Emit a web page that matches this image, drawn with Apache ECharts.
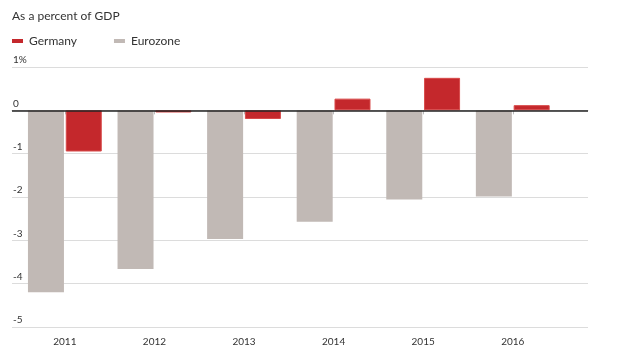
<!DOCTYPE html>
<html>
<head>
<meta charset="utf-8">
<script src="https://cdn.jsdelivr.net/npm/echarts@6/dist/echarts.min.js"></script>
<style>
html,body{margin:0;padding:0;background:#fff;}
#chart{width:617px;height:355px;}
</style>
</head>
<body>
<div id="chart"></div>
<script>
var years = [2011, 2012, 2013, 2014, 2015, 2016];
var germany = [-0.95, -0.05, -0.2, 0.27, 0.75, 0.12];
var eurozone = [-4.2, -3.66, -2.97, -2.57, -2.06, -1.99];
var yTicks = {1: '1%', 0: '0', '-1': '-1', '-2': '-2', '-3': '-3', '-4': '-4', '-5': '-5'};

function pairs(vals) {
  return years.map(function (y, i) { return [y, vals[i]]; });
}

var chart = echarts.init(document.getElementById('chart'));
chart.setOption({
  animation: false,
  textStyle: { fontFamily: 'Lato' },
  title: {
    text: 'As a percent of GDP',
    left: 7, top: 5,
    textStyle: { fontFamily: 'Lato', fontSize: 12, fontWeight: 'normal', color: '#333' }
  },
  legend: {
    left: 7, top: 30,
    itemWidth: 11, itemHeight: 4, itemGap: 37,
    icon: 'rect',
    itemStyle: { borderWidth: 0 },
    textStyle: { fontFamily: 'Lato', fontSize: 12, color: '#333', padding: [0, 0, 0, 1] },
    data: ['Germany', 'Eurozone']
  },
  grid: { left: 12, right: 29, top: 67, bottom: 28 },
  xAxis: {
    type: 'value',
    min: 2010.41, max: 2016.84,
    splitLine: { show: false },
    axisLine: { show: true, lineStyle: { color: '#d6d6d6', width: 1 } },
    axisTick: { show: true, customValues: years, length: 4, lineStyle: { color: '#bbb' } },
    axisLabel: {
      customValues: years, margin: 10,
      fontFamily: 'Lato', fontSize: 10, color: '#333',
      formatter: function (v) { return String(Math.round(v)); }
    }
  },
  yAxis: {
    type: 'value', min: -5, max: 1, interval: 1,
    axisLine: { show: false }, axisTick: { show: false },
    splitLine: { lineStyle: { color: '#dcdcdc', width: 1 } },
    axisLabel: {
      inside: true, margin: 1, verticalAlign: 'bottom',
      fontFamily: 'Lato', fontSize: 10, color: '#333',
      padding: [0, 0, 2, 0],
      formatter: function (v) { return yTicks[String(v)]; }
    }
  },
  series: [
    {
      name: 'Eurozone', type: 'bar', barWidth: 36, barGap: '5%',
      itemStyle: { color: '#c1b9b5' },
      data: pairs(eurozone)
    },
    {
      name: 'Germany', type: 'bar', barWidth: 36, barGap: '5%',
      itemStyle: { color: '#c4282c', borderColor: '#d84a4a', borderWidth: 1 },
      data: pairs(germany),
      markLine: {
        silent: true, symbol: 'none',
        label: { show: false },
        lineStyle: { color: '#222', width: 1.5, type: 'solid' },
        data: [{ yAxis: 0 }]
      }
    }
  ]
});
</script>
</body>
</html>
